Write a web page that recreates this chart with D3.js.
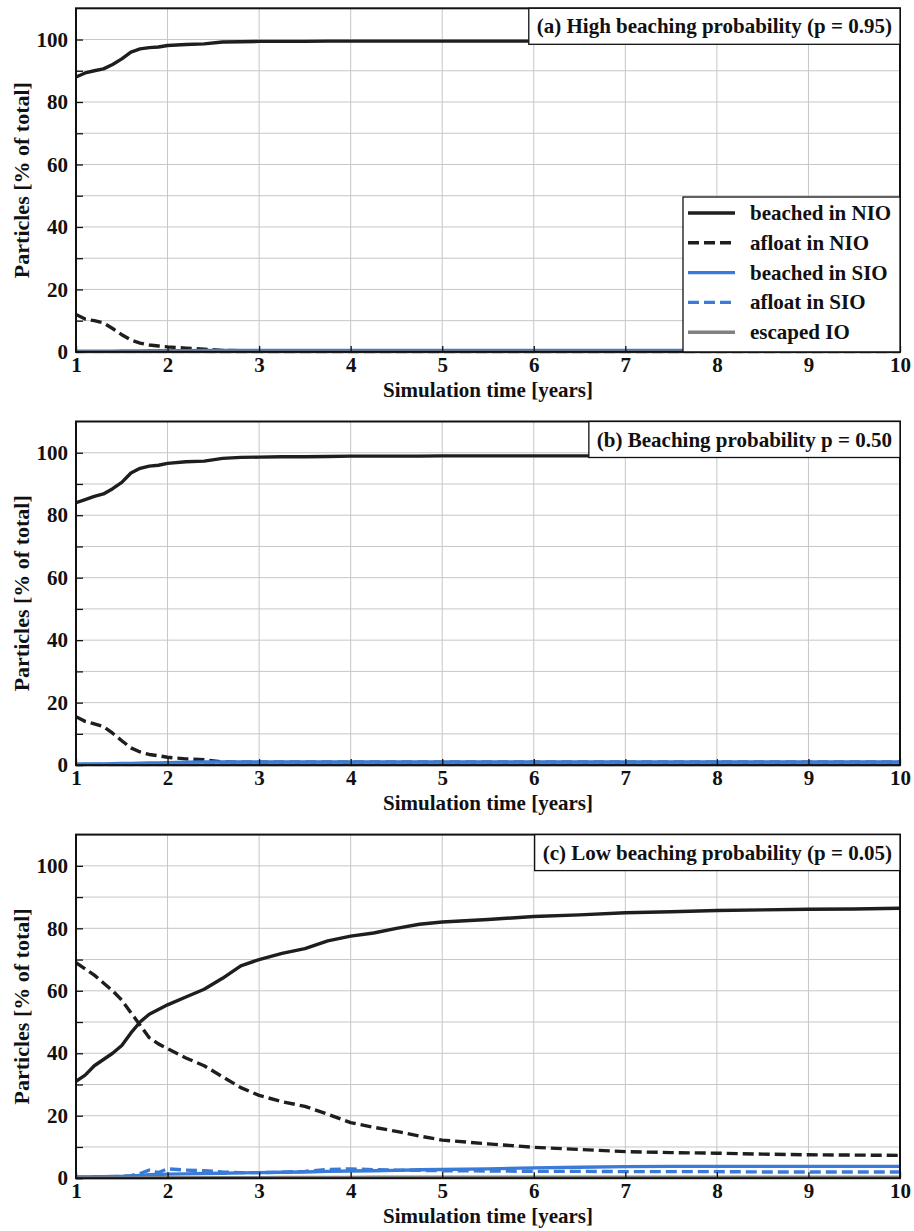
<!DOCTYPE html>
<html>
<head>
<meta charset="utf-8">
<script src="https://cdn.jsdelivr.net/npm/d3@7"></script>
<style>
  html, body { margin: 0; padding: 0; background: #fff; }
  svg { display: block; }
  text { font-family: "Liberation Serif", "Times New Roman", serif; font-weight: bold; fill: #111; }
</style>
</head>
<body>
<svg id="chart" width="914" height="1231"></svg>
<script>
// ---- Data ----
const years = [1, 1.1, 1.2, 1.3, 1.4, 1.5, 1.6, 1.7, 1.8, 1.9, 2.0, 2.2, 2.4, 2.6, 2.8, 3.0, 3.25, 3.5, 3.75, 4.0, 4.25, 4.5, 4.75, 5.0, 5.5, 6.0, 6.5, 7.0, 7.5, 8.0, 8.5, 9.0, 9.5, 10.0];

const seriesNames = ["beached in NIO", "afloat in NIO", "beached in SIO", "afloat in SIO", "escaped IO"];
const panelTitles = ["(a) High beaching probability (p = 0.95)", "(b) Beaching probability p = 0.50", "(c) Low beaching probability (p = 0.05)"];
const xTicks = [1, 2, 3, 4, 5, 6, 7, 8, 9, 10];
const yTicks = [0, 20, 40, 60, 80, 100];
const yMinorTicks = [10, 30, 50, 70, 90];
const xLabel = "Simulation time [years]";
const yLabel = "Particles [% of total]";

// Panel (a) p = 0.95
const a_beachedNIO = [88, 89.3, 90, 90.6, 92, 93.8, 96, 97, 97.4, 97.6, 98.1, 98.4, 98.6, 99.2, 99.3, 99.4, 99.4, 99.4, 99.5, 99.5, 99.5, 99.5, 99.5, 99.5, 99.5, 99.5, 99.5, 99.5, 99.5, 99.5, 99.5, 99.5, 99.5, 99.5];
const a_afloatNIO  = [12, 10.5, 10, 9.3, 7.5, 5.5, 3.8, 2.8, 2.2, 1.9, 1.6, 1.2, 0.9, 0.5, 0.4, 0.4, 0.4, 0.4, 0.4, 0.4, 0.4, 0.4, 0.4, 0.4, 0.4, 0.4, 0.4, 0.4, 0.4, 0.4, 0.4, 0.4, 0.4, 0.4];
const a_beachedSIO = [0.2, 0.2, 0.2, 0.25, 0.25, 0.3, 0.3, 0.3, 0.35, 0.35, 0.4, 0.4, 0.45, 0.5, 0.5, 0.5, 0.5, 0.5, 0.5, 0.5, 0.5, 0.5, 0.5, 0.5, 0.5, 0.5, 0.5, 0.5, 0.5, 0.5, 0.5, 0.5, 0.5, 0.5];
const a_afloatSIO  = [0.1, 0.1, 0.1, 0.1, 0.1, 0.1, 0.1, 0.1, 0.1, 0.1, 0.1, 0.1, 0.1, 0.05, 0.05, 0.05, 0.05, 0.05, 0.05, 0.05, 0.05, 0.05, 0.05, 0.05, 0.05, 0.05, 0.05, 0.05, 0.05, 0.05, 0.05, 0.05, 0.05, 0.05];
const a_escapedIO  = [0, 0, 0, 0, 0, 0, 0, 0, 0, 0, 0, 0, 0, 0, 0, 0, 0, 0, 0, 0, 0, 0, 0, 0, 0, 0, 0, 0, 0, 0, 0, 0, 0, 0];

// Panel (b) p = 0.50
const b_beachedNIO = [84, 85, 86, 86.8, 88.5, 90.5, 93.5, 95, 95.7, 96, 96.6, 97.1, 97.3, 98.2, 98.5, 98.6, 98.7, 98.7, 98.8, 98.9, 98.9, 98.9, 98.9, 99, 99, 99, 99, 99, 99, 99, 99, 99, 99, 99];
const b_afloatNIO  = [15.5, 14, 13.2, 12.3, 10.2, 7.8, 5.5, 4.2, 3.4, 3.0, 2.5, 2.0, 1.7, 1.0, 0.9, 0.9, 0.9, 0.9, 0.9, 0.9, 0.9, 0.9, 0.9, 0.9, 0.9, 0.9, 0.9, 0.9, 0.9, 0.9, 0.9, 0.9, 0.9, 0.9];
const b_beachedSIO = [0.3, 0.35, 0.4, 0.4, 0.45, 0.5, 0.55, 0.6, 0.65, 0.7, 0.8, 0.9, 1.0, 1.0, 1.0, 1.0, 1.0, 1.0, 1.0, 1.0, 1.0, 1.0, 1.0, 1.0, 1.0, 1.0, 1.0, 1.0, 1.0, 1.0, 1.0, 1.0, 1.0, 1.0];
const b_afloatSIO  = [0.2, 0.2, 0.2, 0.2, 0.2, 0.2, 0.2, 0.2, 0.2, 0.2, 0.2, 0.2, 0.2, 0.2, 0.2, 0.2, 0.2, 0.2, 0.2, 0.2, 0.2, 0.2, 0.2, 0.2, 0.2, 0.2, 0.2, 0.2, 0.2, 0.2, 0.2, 0.2, 0.2, 0.2];
const b_escapedIO  = [0, 0, 0, 0, 0, 0, 0, 0, 0, 0, 0, 0, 0, 0, 0, 0, 0, 0, 0, 0, 0, 0, 0, 0, 0, 0, 0, 0, 0, 0, 0, 0, 0, 0];

// Panel (c) p = 0.05
const c_beachedNIO = [31, 33, 36, 38, 40, 42.5, 46.5, 50, 52.5, 54, 55.5, 58, 60.5, 64, 68, 70, 72, 73.5, 76, 77.5, 78.5, 80, 81.3, 82, 82.8, 83.8, 84.3, 85, 85.3, 85.7, 85.9, 86.1, 86.2, 86.4];
const c_afloatNIO  = [69, 67, 65, 62.5, 60, 57, 53, 49, 45, 43, 41.5, 38.5, 36, 32.5, 29, 26.5, 24.5, 23, 20.5, 17.8, 16.3, 15, 13.5, 12.2, 11, 9.9, 9.2, 8.5, 8.2, 8.0, 7.7, 7.5, 7.4, 7.3];
const c_beachedSIO = [0.4, 0.4, 0.45, 0.5, 0.55, 0.6, 0.7, 0.9, 1.1, 1.2, 1.3, 1.4, 1.5, 1.6, 1.7, 1.8, 1.9, 2.0, 2.2, 2.3, 2.4, 2.5, 2.7, 2.8, 3.0, 3.3, 3.5, 3.7, 3.8, 3.8, 3.8, 3.8, 3.8, 3.8];
const c_afloatSIO  = [0.3, 0.3, 0.4, 0.4, 0.5, 0.6, 0.8, 1.5, 2.6, 1.8, 3.0, 2.6, 2.4, 2.0, 1.8, 1.8, 1.9, 2.2, 2.8, 3.0, 2.7, 2.6, 2.5, 2.4, 2.3, 2.2, 2.2, 2.1, 2.1, 2.1, 2.0, 2.0, 2.0, 2.0];
const c_escapedIO  = [0.1, 0.1, 0.1, 0.1, 0.1, 0.1, 0.1, 0.1, 0.15, 0.15, 0.15, 0.2, 0.2, 0.2, 0.2, 0.2, 0.25, 0.25, 0.25, 0.25, 0.3, 0.3, 0.3, 0.3, 0.3, 0.3, 0.3, 0.3, 0.3, 0.3, 0.3, 0.3, 0.3, 0.3];

const panels = [
  [a_beachedNIO, a_afloatNIO, a_beachedSIO, a_afloatSIO, a_escapedIO],
  [b_beachedNIO, b_afloatNIO, b_beachedSIO, b_afloatSIO, b_escapedIO],
  [c_beachedNIO, c_afloatNIO, c_beachedSIO, c_afloatSIO, c_escapedIO]
];

// ---- Styles ----
const styles = [
  { color: "#1e1e1e", dash: null },
  { color: "#1e1e1e", dash: "11,5" },
  { color: "#3a7bd8", dash: null },
  { color: "#3a7bd8", dash: "11,5" },
  { color: "#808080", dash: null }
];
const FONT = '"Liberation Serif", "Times New Roman", serif';

const svg = d3.select("#chart");
const left = 76, right = 900;
const panelTops = [8.3, 421.5, 834.6];
const panelH = 343.6;

const x = d3.scaleLinear().domain([1, 10]).range([left, right]);

function styleText(sel, size) {
  return sel.style("font-family", FONT).style("font-weight", "bold").style("font-size", size + "px").attr("fill", "#111");
}

panels.forEach((series, pi) => {
  const top = panelTops[pi], bottom = top + panelH;
  const y = d3.scaleLinear().domain([0, 110]).range([bottom, top]);
  const g = svg.append("g");

  // grid
  g.append("g").selectAll("line").data(xTicks.slice(1, -1)).join("line")
    .attr("x1", d => x(d)).attr("x2", d => x(d)).attr("y1", top).attr("y2", bottom)
    .attr("stroke", "#c6c6c6").attr("stroke-width", 1);
  g.append("g").selectAll("line").data(yTicks.concat(yMinorTicks).filter(v => v > 0)).join("line")
    .attr("x1", left).attr("x2", right).attr("y1", d => y(d)).attr("y2", d => y(d))
    .attr("stroke", "#c6c6c6").attr("stroke-width", 1);

  // lines
  const clipId = "clip" + pi;
  svg.append("clipPath").attr("id", clipId).append("rect")
    .attr("x", left).attr("y", top).attr("width", right - left).attr("height", panelH + 1.5);
  const line = d3.line().x((d, i) => x(years[i])).y(d => y(d));
  series.forEach((vals, si) => {
    g.append("path").datum(vals)
      .attr("clip-path", `url(#${clipId})`)
      .attr("d", line)
      .attr("fill", "none")
      .attr("stroke", styles[si].color)
      .attr("stroke-width", 3.4)
      .attr("stroke-linejoin", "round")
      .attr("stroke-dasharray", styles[si].dash);
  });

  // axes (inward ticks)
  const xAxis = d3.axisBottom(x).tickValues(xTicks).tickSizeInner(-6).tickSizeOuter(0).tickPadding(5).tickFormat(d3.format("d"));
  const gx = g.append("g").attr("transform", `translate(0,${bottom})`).call(xAxis);
  const yAxis = d3.axisLeft(y).tickValues(yTicks.concat(yMinorTicks)).tickSizeInner(-7).tickSizeOuter(0).tickPadding(8)
    .tickFormat(d => yTicks.includes(d) ? d3.format("d")(d) : "");
  const gy = g.append("g").attr("transform", `translate(${left},0)`).call(yAxis);
  [gx, gy].forEach(ax => {
    ax.attr("font-family", null).attr("font-size", null);
    ax.select(".domain").remove();
    ax.selectAll(".tick line").attr("stroke", "#111").attr("stroke-width", 1.3);
    styleText(ax.selectAll(".tick text"), 21);
  });

  // frame
  g.append("rect").attr("x", left).attr("y", top).attr("width", right - left).attr("height", panelH)
    .attr("fill", "none").attr("stroke", "#111").attr("stroke-width", 2);

  // axis labels
  styleText(g.append("text"), 21).attr("x", (left + right) / 2).attr("y", bottom + 45)
    .attr("text-anchor", "middle").text(xLabel);
  styleText(g.append("text"), 22).attr("transform", `translate(29,${(top + bottom) / 2}) rotate(-90)`)
    .attr("text-anchor", "middle").text(yLabel);

  // title box
  const tb = g.append("g");
  const tt = styleText(tb.append("text"), 21).attr("x", right - 8).attr("y", top + 25).attr("text-anchor", "end")
    .text(panelTitles[pi]);
  const bb = tt.node().getBBox();
  tb.insert("rect", "text").attr("x", bb.x - 8).attr("y", top).attr("width", right - (bb.x - 8)).attr("height", 36)
    .attr("fill", "#fff").attr("stroke", "#111").attr("stroke-width", 1.3);

  // legend (panel a only)
  if (pi === 0) {
    const lg = g.append("g");
    const lx = 683, ly = 197, lw = right - lx, lh = bottom - ly;
    lg.append("rect").attr("x", lx).attr("y", ly).attr("width", lw).attr("height", lh)
      .attr("fill", "#fff").attr("stroke", "#111").attr("stroke-width", 1.3);
    seriesNames.forEach((name, si) => {
      const yy = ly + 16 + si * 29.8;
      lg.append("line").attr("x1", lx + 5).attr("x2", lx + 52).attr("y1", yy).attr("y2", yy)
        .attr("stroke", styles[si].color).attr("stroke-width", 3.4)
        .attr("stroke-dasharray", styles[si].dash);
      styleText(lg.append("text"), 21).attr("x", lx + 67).attr("y", yy + 7).text(name);
    });
  }
});
</script>
</body>
</html>
